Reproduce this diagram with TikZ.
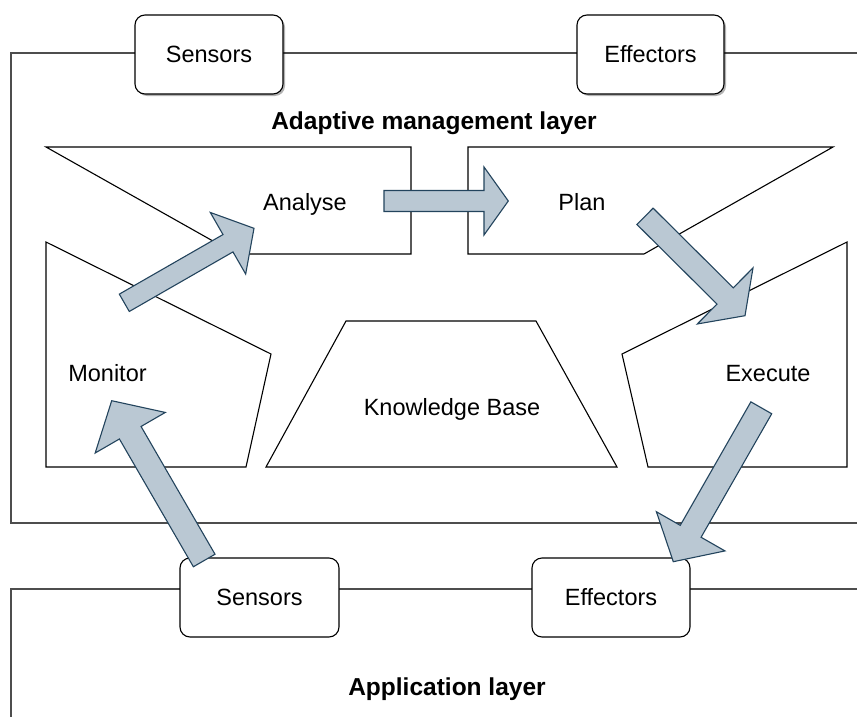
\documentclass[tikz,border=0pt]{standalone}
\usepackage{fontspec}
\setmainfont{Liberation Sans}
\usetikzlibrary{calc,shadows}
\definecolor{arrowfill}{HTML}{BAC8D3}
\definecolor{arrowline}{HTML}{23445D}
\definecolor{frameline}{HTML}{4D4D4D}

% Block arrow: tail, tip, half shaft width, half head width, head length
\newcommand\flexarrow[5]{%
  \draw[blockarrow]
    ($(#1)!#3pt!-90:(#2)$)
    -- ($(#2)!#5pt!(#1)!#3pt!90:(#1)$)
    -- ($(#2)!#5pt!(#1)!#4pt!90:(#1)$)
    -- (#2)
    -- ($(#2)!#5pt!(#1)!#4pt!-90:(#1)$)
    -- ($(#2)!#5pt!(#1)!#3pt!-90:(#1)$)
    -- ($(#1)!#3pt!90:(#2)$)
    -- cycle;}

\begin{document}
\begin{tikzpicture}[x=1pt,y=-1pt,
  txt/.style={font=\fontsize{23.5}{28}\selectfont, inner sep=0pt, anchor=base},
  title/.style={font=\fontsize{24.5}{29}\selectfont\bfseries, inner sep=0pt, anchor=base},
  iface/.style={draw=black, line width=1.1pt, fill=white, rounded corners=10pt,
    minimum height=79pt, inner sep=0pt, font=\fontsize{23.5}{28}\selectfont},
  shadowed/.style={drop shadow={shadow xshift=2pt, shadow yshift=-2pt, fill=black, opacity=0.3}},
  layer/.style={draw=frameline, line width=1.2pt},
  part/.style={draw=black, line width=1.1pt, fill=white, line join=miter},
  blockarrow/.style={draw=arrowline, line width=1.1pt, fill=arrowfill, line join=miter}]
\useasboundingbox (0,0) rectangle (857,717);

% layer frames
\draw[layer] (857,53) -- (11,53) -- (11,523) -- (857,523);
\draw[layer] (857,589) -- (11,589) -- (11,717);

% interfaces of the adaptive layer
\node[iface, shadowed, minimum width=148pt] (sensTop) at (209,54.5) {Sensors};
\node[iface, shadowed, minimum width=147pt] (effTop) at (650.5,54.5) {Effectors};

% interfaces of the application layer
\node[iface, minimum width=159pt] (sensBot) at (259.5,597.5) {Sensors};
\node[iface, minimum width=158pt] (effBot) at (611,597.5) {Effectors};

% layer titles
\node[title] (adaptTitle) at (434,129) {Adaptive management layer};
\node[title] (appTitle) at (447,695) {Application layer};

% MAPE-K parts
\draw[part] (46,147) -- (411,147) -- (411,254) -- (236,254) -- cycle;
\draw[part] (468,147) -- (833,147) -- (644,254) -- (468,254) -- cycle;
\draw[part] (46,242) -- (271,354) -- (246,467) -- (46,467) -- cycle;
\draw[part] (847,242) -- (847,467) -- (648,467) -- (622,354) -- cycle;
\draw[part] (346,321) -- (536,321) -- (617,467) -- (266,467) -- cycle;

\node[txt] (analyse) at (305,210) {Analyse};
\node[txt] (plan) at (582,210) {Plan};
\node[txt] (monitor) at (107.5,381.5) {Monitor};
\node[txt] (execute) at (768,381.5) {Execute};
\node[txt] (knowledge) at (452,415) {Knowledge Base};

% arrow end points
\coordinate (m2aTail) at (124.3,302.8);
\coordinate (m2aTip) at (254,228.3);
\coordinate (a2pTail) at (384,201);
\coordinate (a2pTip) at (508.3,201);
\coordinate (p2eTail) at (645,216.3);
\coordinate (p2eTip) at (745,315.7);
\coordinate (e2fTail) at (761.3,407.8);
\coordinate (e2fTip) at (673.3,561.7);
\coordinate (s2mTail) at (204.2,560.5);
\coordinate (s2mTip) at (111.7,400.7);

% control loop arrows
\flexarrow{m2aTail}{m2aTip}{10}{35.5}{30}
\flexarrow{a2pTail}{a2pTip}{10.5}{34}{24.3}
\flexarrow{p2eTail}{p2eTip}{11.5}{39.5}{28}
\flexarrow{e2fTail}{e2fTip}{12}{39.5}{35}
\flexarrow{s2mTail}{s2mTip}{12.5}{40.5}{37}
\end{tikzpicture}
\end{document}
